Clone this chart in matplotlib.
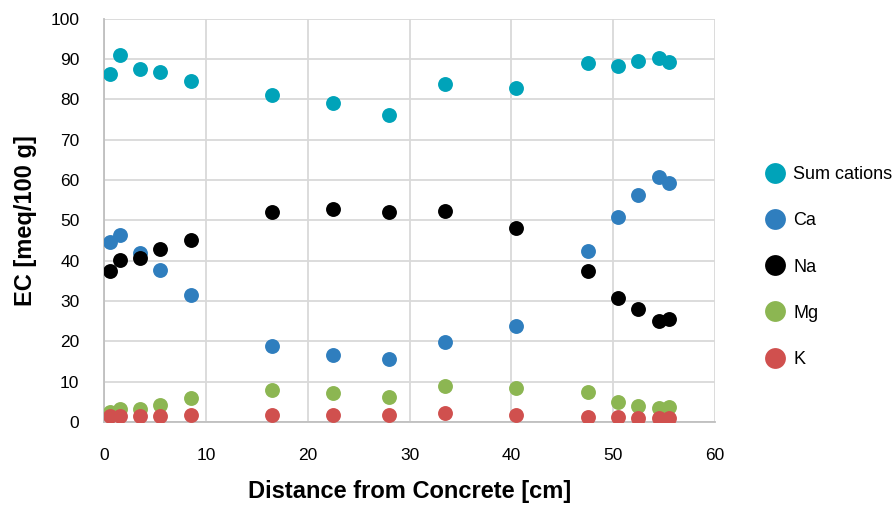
import matplotlib
matplotlib.use("Agg")
import matplotlib.pyplot as plt
from matplotlib.lines import Line2D

plt.rcParams['font.family'] = ['Liberation Sans', 'DejaVu Sans']

distance = [0.5, 1.5, 3.5, 5.5, 8.5, 16.5, 22.5, 28, 33.5, 40.5, 47.5, 50.5, 52.5, 54.5, 55.5]
sum_cations = [86.4, 91.1, 87.4, 86.8, 84.5, 81.0, 79.1, 76.2, 83.9, 82.8, 89.0, 88.3, 89.5, 90.2, 89.3]
ca = [44.7, 46.3, 42.0, 37.7, 31.5, 18.9, 16.5, 15.7, 19.8, 23.8, 42.3, 50.9, 56.2, 60.7, 59.2]
na = [37.4, 40.2, 40.7, 42.9, 45.0, 52.0, 52.9, 52.0, 52.4, 48.2, 37.5, 30.8, 28.0, 25.1, 25.5]
mg = [2.5, 3.1, 3.3, 4.3, 6.0, 7.9, 7.3, 6.2, 9.0, 8.5, 7.5, 5.0, 4.0, 3.4, 3.6]
k = [1.5, 1.5, 1.6, 1.6, 1.7, 1.8, 1.8, 1.8, 2.2, 1.8, 1.3, 1.2, 1.1, 1.0, 1.0]

series = [
    ("Sum cations", sum_cations, "#00A3B9"),
    ("Ca", ca, "#2F7EBE"),
    ("Na", na, "#000000"),
    ("Mg", mg, "#8CB652"),
    ("K", k, "#D0504E"),
]

fig = plt.figure(figsize=(8.96, 5.05), dpi=100)
ax = fig.add_axes([0.1166, 0.1644, 0.6811, 0.7986])

handles = []
for name, vals, col in series:
    ax.scatter(distance, vals, s=115, color=col, zorder=3, linewidths=0)
    handles.append(Line2D([], [], linestyle="none", marker="o", markersize=15,
                          markerfacecolor=col, markeredgewidth=0, label=name))

ax.set_xlim(0, 60)
ax.set_ylim(0, 100)
ax.set_xticks(range(0, 61, 10))
ax.set_yticks(range(0, 101, 10))
ax.grid(True, color="#D9D9D9", linewidth=1.3, zorder=0)
ax.set_axisbelow(True)
for s in ["top", "right"]:
    ax.spines[s].set_visible(False)
for s in ["left", "bottom"]:
    ax.spines[s].set_color("#BFBFBF")
    ax.spines[s].set_linewidth(1.3)
ax.tick_params(axis="both", length=0, labelsize=12.5, colors="#000000")
ax.tick_params(axis="x", pad=19)
ax.tick_params(axis="y", pad=18)

ax.set_xlabel("Distance from Concrete [cm]", fontsize=17, fontweight="bold", labelpad=12)
ax.set_ylabel("EC [meq/100 g]", fontsize=17, fontweight="bold", labelpad=10)

fig.legend(handles=handles, loc="center left", bbox_to_anchor=(0.855, 1 - 267 / 505),
           frameon=False, fontsize=13, labelspacing=1.62, handletextpad=0.5,
           handlelength=1.0, borderpad=0, borderaxespad=0)

fig.savefig("out.png", dpi=100)
